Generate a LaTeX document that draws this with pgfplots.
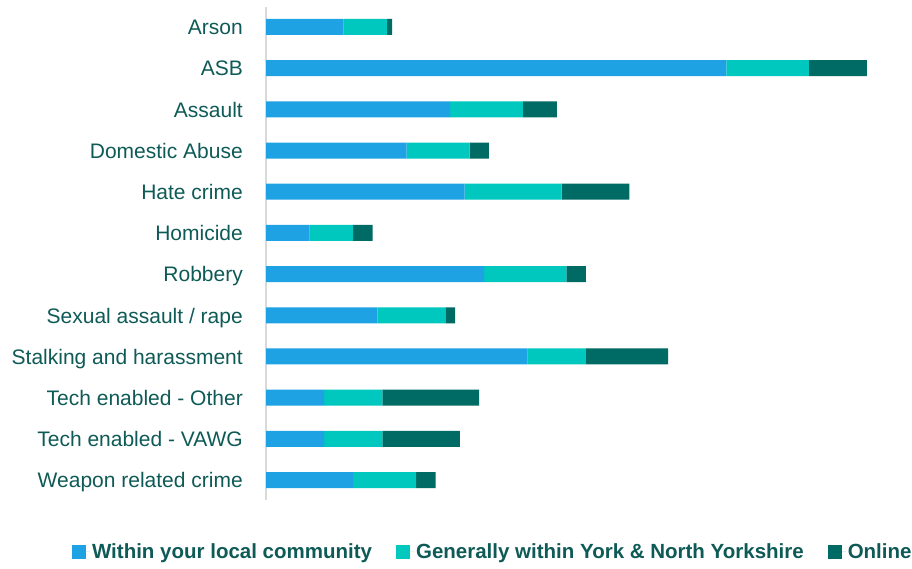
\documentclass[border=0pt]{standalone}
\usepackage{fontspec}
\setmainfont{Liberation Sans}
\usepackage{pgfplots}
\usepackage{pgfplotstable}
\pgfplotsset{compat=1.18}

\definecolor{localblue}{HTML}{1FA2E4}
\definecolor{yorkcyan}{HTML}{00C8BE}
\definecolor{onlineteal}{HTML}{006A64}
\definecolor{labeltxt}{HTML}{0E5A56}
\definecolor{axisgray}{HTML}{D9D9D9}

% y = category index, top to bottom
\pgfplotstableread{
y local york online
0  16  9  1
1  95 17 12
2  38 15  7
3  29 13  4
4  41 20 14
5   9  9  4
6  45 17  4
7  23 14  2
8  54 12 17
9  12 12 20
10 12 12 16
11 18 13  4
}\crimes

\begin{document}
\begin{tikzpicture}
\path[use as bounding box] (0,0) rectangle (912pt,568pt);
\begin{axis}[
    at={(266pt,68pt)}, anchor=south west,
    scale only axis,
    width=630pt, height=493pt,
    xbar stacked,
    bar width=16pt,
    xmin=0, xmax=130,
    ymin=-0.485, ymax=11.485,
    y dir=reverse,
    axis x line=none,
    axis y line*=left,
    y axis line style={-, draw=axisgray, line width=1.8pt},
    xtick=\empty,
    ytick={0,...,11},
    yticklabels={Arson, ASB, Assault, Domestic Abuse, Hate crime, Homicide,
        Robbery, Sexual assault / rape, Stalking and harassment,
        Tech enabled - Other, Tech enabled - VAWG, Weapon related crime},
    major tick length=0pt,
    yticklabel style={anchor=east, inner sep=0pt, xshift=-23pt, yshift=-2.5pt,
        text height=15pt, text depth=4.5pt,
        font=\fontsize{21}{25}\selectfont, text=labeltxt},
    legend style={at={(0.36,-0.105)}, anchor=center, draw=none,
        legend columns=3, text=labeltxt,
        font=\bfseries\fontsize{20.5}{24}\selectfont,
        /tikz/every even column/.append style={column sep=22pt}},
    legend image code/.code={\fill[#1] (0pt,-7pt) rectangle (14pt,7pt);
        \path (14pt,0pt) -- (18pt,0pt);},
]
\addplot[fill=localblue, draw=none] table[x=local, y=y] {\crimes};
\addlegendentry{Within your local community}
\addplot[fill=yorkcyan, draw=none] table[x=york, y=y] {\crimes};
\addlegendentry{Generally within York \& North Yorkshire}
\addplot[fill=onlineteal, draw=none] table[x=online, y=y] {\crimes};
\addlegendentry{Online}
\end{axis}
\end{tikzpicture}
\end{document}
